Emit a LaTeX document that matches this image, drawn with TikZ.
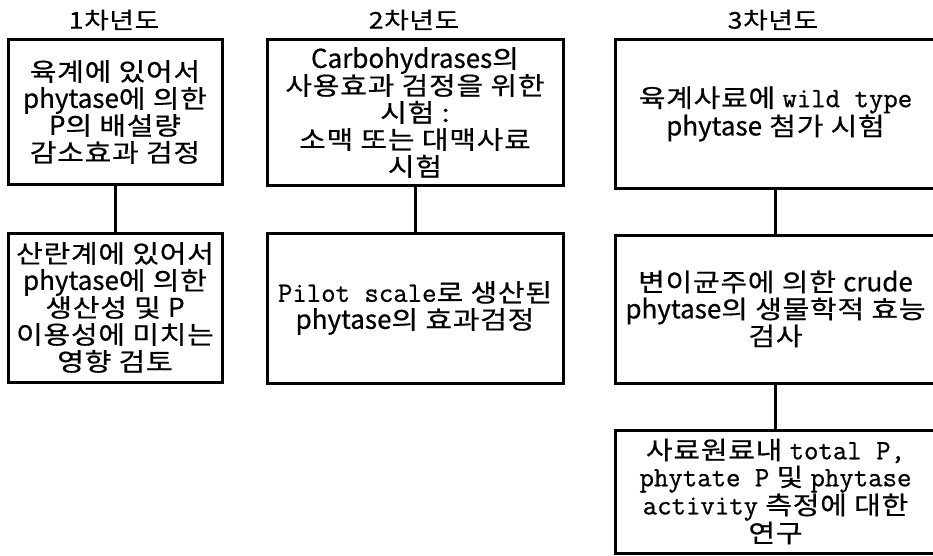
\documentclass[tikz,border=0pt]{standalone}
\usepackage{fontspec}
\setmainfont{Noto Sans CJK KR}[FakeStretch=1.16, LetterSpace=3, FakeBold=0.6]
\newfontfamily\latnfont{Noto Sans CJK KR}[FakeBold=0.6]
\setmonofont{Latin Modern Mono}[FakeBold=0.8]
\newcommand{\la}[1]{{\latnfont\fontsize{26}{27}\selectfont #1}}
\newcommand{\mn}[1]{{\ttfamily\fontsize{28}{27}\selectfont #1}}
\begin{document}
\begin{tikzpicture}[x=1pt,y=-1pt,
  stagebox/.style={draw, line width=3pt, inner sep=0pt, align=center,
    font=\fontsize{25}{27}\selectfont},
  yeartitle/.style={inner sep=0pt, font=\fontsize{23}{27}\selectfont},
  link/.style={line width=3pt}]
\useasboundingbox (0,0) rectangle (933,556);
\clip (0,0) rectangle (933,556);
\node[yeartitle] (t1) at (114,20) {1차년도};
\node[yeartitle] (t2) at (414,20) {2차년도};
\node[yeartitle] (t3) at (773,20) {3차년도};

\node[stagebox, minimum width=214pt, minimum height=144pt] (a1) at (115,112)
  {육계에 있어서\\\la{phytase}에 의한\\\la{P}의 배설량\\감소효과 검정};
\node[stagebox, minimum width=214pt, minimum height=149pt] (a2) at (115,307.5)
  {산란계에 있어서\\\la{phytase}에 의한\\생산성 및 \la{P}\\이용성에 미치는\\영향 검토};

\node[stagebox, minimum width=296pt, minimum height=145pt] (b1) at (415,112.5)
  {\la{Carbohydrases}의\\사용효과 검정을 위한\\시험 :\\소맥 또는 대맥사료\\시험};
\node[stagebox, minimum width=296pt, minimum height=150pt] (b2) at (415,308)
  {\mn{Pilot scale}로 생산된\\\la{phytase}의 효과검정};

\node[stagebox, minimum width=321pt, minimum height=148pt] (c1) at (775.5,114)
  {육계사료에 \mn{wild type}\\\la{phytase} 첨가 시험};
\node[stagebox, minimum width=321pt, minimum height=148pt] (c2) at (775.5,309)
  {변이균주에 의한 \la{crude}\\\la{phytase}의 생물학적 효능\\검사};
\node[stagebox, minimum width=321pt, minimum height=123pt] (c3) at (775.5,491.5)
  {사료원료내 \mn{total P,}\\\mn{phytate P} 및 \mn{phytase}\\\mn{activity} 측정에 대한\\연구};

\draw[link] (a1.south) -- (a2.north);
\draw[link] (b1.south) -- (b2.north);
\draw[link] (c1.south) -- (c2.north);
\draw[link] (c2.south) -- (c3.north);
\end{tikzpicture}
\end{document}
